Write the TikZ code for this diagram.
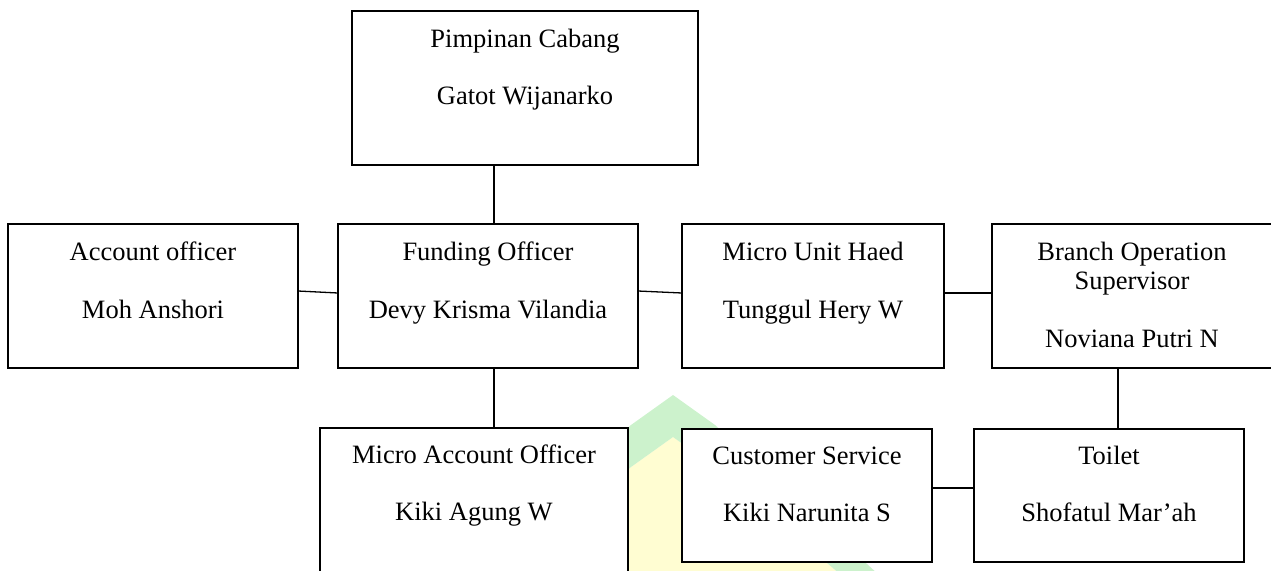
\documentclass[tikz,border=0pt]{standalone}
\usepackage{fontspec}
\setmainfont{Liberation Serif}
\definecolor{wmgreen}{RGB}{204,242,204}
\definecolor{wmyellow}{RGB}{255,253,210}
\begin{document}
\begin{tikzpicture}[x=1pt,y=-1pt,
  orgbox/.style={draw=black, line width=1.3pt, fill=white, rectangle, inner sep=0pt, outer sep=0pt, anchor=north west},
  txt/.style={anchor=base, inner sep=0pt, font=\fontsize{26.5}{29}\selectfont},
  link/.style={draw=black, line width=1.3pt}]
\useasboundingbox (0,0) rectangle (1271,570);
\clip (0,0) rectangle (1271,570);
% watermark
\fill[wmyellow] (505,575) -- (631,467) -- (673,437) -- (715,467) -- (841,575) -- cycle;
\fill[wmgreen] (467,575) -- (631,425) -- (673,395) -- (715,425) -- (879,575)
  -- (841,575) -- (715,467) -- (673,437) -- (631,467) -- (505,575) -- cycle;
% boxes
\node[orgbox, minimum width=346pt, minimum height=154pt] (pc) at (352,11) {};
\node[orgbox, minimum width=290pt, minimum height=144pt] (ao) at (8,224) {};
\node[orgbox, minimum width=300pt, minimum height=144pt] (fo) at (338,224) {};
\node[orgbox, minimum width=262pt, minimum height=144pt] (mu) at (682,224) {};
\node[orgbox, minimum width=280pt, minimum height=144pt] (bos) at (992,224) {};
\node[orgbox, minimum width=308pt, minimum height=170pt] (mao) at (320,428) {};
\node[orgbox, minimum width=250pt, minimum height=133pt] (cs) at (682,429) {};
\node[orgbox, minimum width=270pt, minimum height=133pt] (toi) at (974,429) {};
% texts
\node[txt] (pc1) at ([yshift=-36pt]pc.north) {Pimpinan Cabang};
\node[txt] (pc2) at ([yshift=-93pt]pc.north) {Gatot Wijanarko};
\node[txt] (ao1) at ([yshift=-36pt]ao.north) {Account officer};
\node[txt] (ao2) at ([yshift=-94pt]ao.north) {Moh Anshori};
\node[txt] (fo1) at ([yshift=-36pt]fo.north) {Funding Officer};
\node[txt] (fo2) at ([yshift=-94pt]fo.north) {Devy Krisma Vilandia};
\node[txt] (mu1) at ([yshift=-36pt]mu.north) {Micro Unit Haed};
\node[txt] (mu2) at ([yshift=-94pt]mu.north) {Tunggul Hery W};
\node[txt] (bos1) at ([yshift=-36pt]bos.north) {Branch Operation};
\node[txt] (bos2) at ([yshift=-65pt]bos.north) {Supervisor};
\node[txt] (bos3) at ([yshift=-123pt]bos.north) {Noviana Putri N};
\node[txt] (mao1) at ([yshift=-35pt]mao.north) {Micro Account Officer};
\node[txt] (mao2) at ([yshift=-92pt]mao.north) {Kiki Agung W};
\node[txt] (cs1) at ([yshift=-35pt]cs.north) {Customer Service};
\node[txt] (cs2) at ([yshift=-92pt]cs.north) {Kiki Narunita S};
\node[txt] (toi1) at ([yshift=-35pt]toi.north) {Toilet};
\node[txt] (toi2) at ([yshift=-92pt]toi.north) {Shofatul Mar’ah};
% connectors
\coordinate (c1) at ([xshift=6pt]fo.north);
\coordinate (c2) at ([xshift=6pt]fo.south);
\coordinate (c3) at ([xshift=9pt]toi.north);
\draw[link] (c1) -- (c1 |- pc.south);
\draw[link] (c2) -- (c2 |- mao.north);
\draw[link] ([yshift=5pt]ao.east) -- ([yshift=3pt]fo.west);
\draw[link] ([yshift=5pt]fo.east) -- ([yshift=3pt]mu.west);
\draw[link] ([yshift=3pt]mu.east) -- ([yshift=3pt]bos.west);
\draw[link] (c3) -- (c3 |- bos.south);
\draw[link] ([yshift=7.5pt]cs.east) -- ([yshift=7.5pt]toi.west);
\end{tikzpicture}
\end{document}
